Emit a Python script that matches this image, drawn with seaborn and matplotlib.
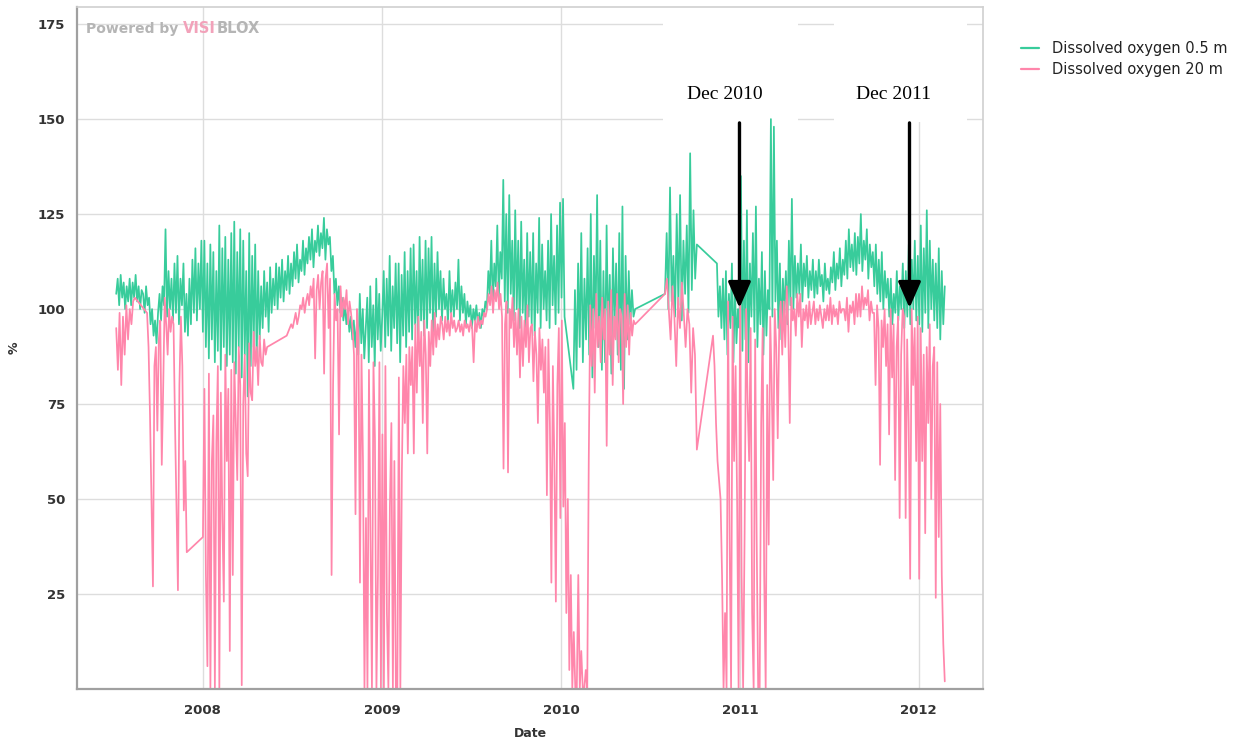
import matplotlib
matplotlib.use("Agg")
import matplotlib.pyplot as plt
import matplotlib.dates as mdates
from matplotlib.offsetbox import TextArea, HPacker, AnchoredOffsetbox
from matplotlib.ticker import MultipleLocator
import numpy as np
import pandas as pd
import seaborn as sns

sns.set_style("white")
plt.rcParams['font.family'] = ['DejaVu Sans']

# ---- data, each piece is a run of samples between two dates
green_a_span = ("2007-07-08", "2010-01-08")
green_a = [104, 108, 101, 109, 103, 107, 100, 106,
           102, 108, 101, 107, 103, 109, 102, 106, 100, 105,
           104, 99, 106, 101, 103, 96, 100, 93, 97, 91,
           99, 104, 97, 106, 101, 121, 98, 110, 100, 108,
           97, 112, 99, 114, 96, 108, 101, 112, 94, 104,
           93, 108, 96, 113, 99, 116, 97, 112, 100, 118,
           94, 118, 90, 112, 87, 117, 92, 115, 86, 110,
           89, 122, 84, 116, 90, 119, 85, 113, 88, 120,
           86, 123, 83, 115, 90, 121, 82, 118, 88, 110,
           77, 120, 85, 114, 90, 117, 87, 110, 92, 106,
           95, 110, 98, 107, 94, 111, 99, 108, 101, 112,
           100, 111, 103, 113, 102, 110, 105, 114, 104, 112,
           106, 115, 108, 117, 107, 113, 110, 118, 109, 116,
           112, 119, 113, 121, 111, 118, 115, 122, 114, 120,
           116, 124, 113, 121, 117, 119, 110, 114, 104, 108,
           101, 106, 99, 103, 97, 101, 96, 100, 94, 98,
           92, 97, 90, 96, 88, 104, 91, 100, 87, 95,
           103, 86, 106, 90, 101, 85, 108, 92, 104, 89,
           98, 110, 90, 108, 93, 114, 89, 106, 95, 112,
           91, 112, 86, 109, 93, 115, 90, 110, 94, 116,
           92, 117, 96, 110, 90, 119, 97, 113, 93, 118,
           95, 116, 99, 119, 94, 112, 98, 115, 100, 110,
           97, 108, 100, 104, 96, 110, 99, 105, 98, 107,
           100, 113, 97, 106, 99, 104, 96, 102, 98, 101,
           95, 100, 97, 101, 96, 99, 95, 100, 98, 102,
           100, 110, 104, 118, 101, 112, 106, 122, 103, 115,
           108, 134, 102, 125, 99, 130, 104, 118, 97, 126,
           100, 118, 95, 123, 99, 113, 94, 120, 98, 115,
           96, 120, 93, 112, 99, 124, 95, 117, 100, 110,
           97, 118, 95, 125, 101, 114, 96, 122, 99, 128,
           103, 129, 98]
green_b_span = ("2010-01-26", "2010-06-01")
green_b = [79, 105, 84, 112, 90, 120, 86, 108, 92, 116,
           88, 125, 82, 114, 95, 130, 90, 118, 84, 110,
           86, 122, 92, 109, 83, 116, 95, 112, 88, 120,
           84, 127, 79, 114, 92, 110, 96, 105, 98, 100]
green_c_span = ("2010-08-01", "2010-10-05")
green_c = [104, 120, 100, 132, 102, 114, 98, 125, 101, 130,
           97, 118, 104, 122, 99, 141, 105, 126, 108, 117]
green_d_span = ("2010-11-15", "2012-02-23")
green_d = [112, 98, 106, 95, 108,
           92, 110, 88, 104, 95, 112, 86, 106, 91, 100,
           95, 135, 89, 118, 92, 126, 86, 112, 98, 120,
           94, 127, 90, 108, 96, 115, 88, 110, 93, 105,
           100, 150, 98, 148, 102, 118, 95, 112, 92, 108,
           99, 110, 96, 118, 101, 129, 100, 114, 103, 112,
           104, 117, 102, 112, 106, 114, 103, 110, 105, 113,
           103, 110, 104, 113, 106, 109, 102, 112, 105, 108,
           104, 111, 107, 115, 105, 112, 108, 116, 106, 113,
           109, 118, 108, 121, 111, 117, 110, 120, 109, 119,
           112, 125, 110, 118, 113, 121, 108, 117, 111, 115,
           106, 117, 104, 113, 102, 115, 100, 110, 103, 108,
           98, 108, 96, 104, 99, 110, 97, 106, 100, 112,
           95, 110, 98, 117, 96, 113, 100, 118, 97, 114,
           96, 122, 94, 116, 99, 126, 95, 118, 100, 113,
           97, 112, 95, 116, 92, 110, 96, 106]

pink_a_span = ("2007-07-08", "2007-08-15")
pink_a = [95, 84, 99, 80, 98, 88, 101, 92, 100, 96, 102, 103]
pink_b_span = ("2007-09-09", "2007-11-29")
pink_b = [99, 90, 72, 50, 27, 85, 90, 68,
          92, 97, 59, 80, 103, 96, 88, 100, 94, 98,
          96, 70, 48, 26, 80, 98, 85, 47, 60, 36]
pink_c_span = ("2008-01-01", "2008-05-11")
pink_c = [40, 79, 30, 6, 83, 0, 60, 72, 0, 65,
          85, 0, 78, 45, 23, 88, 60, 79, 10, 84,
          30, 86, 70, 55, 90, 80, 1, 75, 88, 62,
          56, 91, 78, 76, 94, 85, 90, 80, 93, 86,
          85, 92, 88, 90]
pink_d_span = ("2008-06-20", "2010-06-01")
pink_d = [93, 94, 95, 96,
          95, 97, 99, 96, 98, 101, 100, 103, 99, 102,
          104, 101, 106, 103, 108, 87, 105, 109, 100, 107,
          110, 83, 108, 112, 95, 108, 30, 80, 104, 97,
          100, 67, 106, 98, 103, 100, 105, 96, 102, 99,
          95, 88, 46, 100, 92, 28, 88, 60, 0, 45,
          0, 84, 40, 0, 86, 66, 0, 30, 86, 0,
          67, 0, 85, 20, 0, 48, 70, 0, 60, 0,
          0, 82, 0, 57, 85, 70, 88, 62, 90, 80,
          90, 62, 96, 78, 98, 85, 94, 70, 97, 88,
          62, 94, 85, 97, 88, 99, 90, 96, 92, 98,
          96, 92, 98, 94, 97, 93, 99, 95, 97, 94,
          95, 97, 94, 96, 93, 97, 95, 96, 94, 97,
          95, 86, 97, 94, 98, 95, 97, 96, 99, 98,
          100, 104, 101, 106, 99, 105, 102, 107, 100, 104,
          98, 58, 96, 102, 57, 100, 95, 103, 90, 99,
          88, 100, 82, 98, 85, 97, 90, 101, 86, 95,
          96, 81, 94, 88, 70, 95, 84, 92, 78, 90,
          51, 92, 70, 28, 85, 60, 23, 80, 95, 45,
          97, 48, 70, 20, 50, 5, 30, 0, 15, 0,
          0, 30, 0, 10, 0, 0, 5, 0, 60, 101,
          85, 100, 78, 104, 90, 98, 86, 103, 92, 100,
          64, 102, 88, 105, 80, 98, 92, 104, 86, 100,
          98, 75, 104, 90, 101, 88, 99, 93, 97, 96]
pink_e_span = ("2010-08-01", "2010-10-05")
pink_e = [104, 108, 100, 92, 106, 98, 85, 103, 95, 107,
          99, 90, 100, 96, 78, 95, 88, 63]
pink_f_span = ("2010-11-07", "2012-02-23")
pink_f = [93, 85, 70, 60, 55, 50, 30,
          0, 20, 0, 102, 40, 0, 98, 60, 85, 50,
          0, 106, 30, 0, 41, 100, 75, 60, 95, 20,
          0, 92, 40, 0, 0, 70, 95, 30, 0, 80,
          38, 98, 80, 55, 100, 90, 66, 95, 102, 88,
          102, 90, 106, 95, 70, 103, 97, 100, 93, 104,
          98, 104, 90, 100, 97, 101, 95, 102, 96, 99,
          102, 96, 100, 97, 101, 98, 95, 100, 97, 101,
          97, 103, 96, 101, 98, 100, 96, 102, 99, 100,
          100, 97, 103, 94, 101, 99, 102, 96, 104, 98,
          104, 98, 106, 100, 103, 101, 105, 97, 102, 99,
          99, 80, 101, 95, 59, 97, 90, 100, 85, 96,
          67, 100, 82, 96, 55, 90, 98, 45, 88, 100,
          98, 45, 92, 70, 29, 100, 80, 95, 60, 98,
          29, 95, 60, 88, 41, 90, 70, 96, 50, 85,
          90, 24, 86, 40, 75, 30, 12, 2]

series_names = ["Dissolved oxygen 0.5 m", "Dissolved oxygen 20 m"]
green_parts = [(green_a_span, green_a), (green_b_span, green_b),
               (green_c_span, green_c), (green_d_span, green_d)]
pink_parts = [(pink_a_span, pink_a), (pink_b_span, pink_b), (pink_c_span, pink_c),
              (pink_d_span, pink_d), (pink_e_span, pink_e), (pink_f_span, pink_f)]

annot_labels = ["Dec 2010", "Dec 2011"]
annot_text_dates = ["2010-12-01", "2011-11-10"]
annot_arrow_dates = ["2010-12-31", "2011-12-13"]
# white patches behind the two labels (date spans)
annot_boxes = [("2010-07-28", "2011-04-29"), ("2011-07-11", "2012-04-08")]


def build(parts, name):
    frames = []
    for (start, end), vals in parts:
        frames.append(pd.DataFrame({
            "Date": pd.date_range(start, end, periods=len(vals)),
            "value": vals,
            "series": name,
        }))
    return pd.concat(frames, ignore_index=True)


df = pd.concat([build(green_parts, series_names[0]),
                build(pink_parts, series_names[1])], ignore_index=True)

GREEN = "#38CC9B"
PINK = "#FF86AB"

fig = plt.figure(figsize=(12.39, 7.44), dpi=100)
ax = fig.add_axes([77 / 1239, 1 - 689 / 744, (983 - 77) / 1239, (689 - 7) / 744])

sns.lineplot(data=df, x="Date", y="value", hue="series", hue_order=series_names,
             palette=[GREEN, PINK], estimator=None, sort=False, linewidth=1.25,
             ax=ax, legend=True)

ax.set_xlim(pd.Timestamp("2007-04-19"), pd.Timestamp("2012-05-11"))
ax.set_ylim(0, 179.5)

# ticks
ax.xaxis.set_major_locator(mdates.YearLocator())
ax.xaxis.set_major_formatter(mdates.DateFormatter("%Y"))
ax.xaxis.set_minor_locator(mdates.MonthLocator(bymonth=[4, 7, 10]))
ax.yaxis.set_minor_locator(MultipleLocator(5))
ax.set_yticks([25, 50, 75, 100, 125, 150, 175])
ax.tick_params(axis="both", which="both", direction="out", length=5, width=1.3,
               color="#333333", labelsize=9.5, labelcolor="#333333")
ax.tick_params(axis="x", which="major", pad=6)
for lab in ax.get_xticklabels() + ax.get_yticklabels():
    lab.set_fontweight("bold")

ax.grid(True, which="major", color="#DDDDDD", linewidth=1)
ax.set_axisbelow(True)

for side in ["top", "right"]:
    ax.spines[side].set_color("#D0D0D0")
    ax.spines[side].set_linewidth(1.2)
for side in ["left", "bottom"]:
    ax.spines[side].set_color("#A0A0A0")
    ax.spines[side].set_linewidth(1.6)

ax.set_xlabel("Date", fontsize=9, fontweight="bold", color="#333333", labelpad=7)
ax.set_ylabel("%", fontsize=9, fontweight="bold", color="#333333", labelpad=12)

# legend outside on the right
handles, labels = ax.get_legend_handles_labels()
ax.get_legend().remove()
leg = fig.legend(handles, labels, loc="upper left", bbox_to_anchor=(1008 / 1239, 1 - 28 / 744),
                 frameon=False, fontsize=10.5, handlelength=1.2, handletextpad=0.9,
                 labelspacing=0.4)
for line in leg.get_lines():
    line.set_linewidth(1.6)
for t in leg.get_texts():
    t.set_color("#222222")

# watermark
wm = HPacker(children=[
    TextArea("Powered by ", textprops=dict(color="#B5B5B5", fontsize=10, fontweight="bold")),
    TextArea("VISI", textprops=dict(color="#F2A2BA", fontsize=10.5, fontweight="bold")),
    TextArea("BLOX", textprops=dict(color="#B5B5B5", fontsize=10.5, fontweight="bold")),
], align="baseline", pad=0, sep=0)
ax.add_artist(AnchoredOffsetbox(loc="upper left", child=wm, frameon=False,
                                bbox_to_anchor=(0.004, 0.988), bbox_transform=ax.transAxes,
                                borderpad=0))

# annotations with arrows
for (b0, b1) in annot_boxes:
    ax.axvspan(pd.Timestamp(b0), pd.Timestamp(b1), ymin=0.832, ymax=1.0,
               color="white", lw=0, zorder=1)
for label, tdate, adate in zip(annot_labels, annot_text_dates, annot_arrow_dates):
    ax.text(pd.Timestamp(tdate), 156.5, label, ha="center", va="center",
            fontsize=14, family="Liberation Serif", color="black", zorder=5)
    ax.annotate("", xy=(pd.Timestamp(adate), 100.3), xytext=(pd.Timestamp(adate), 149),
                arrowprops=dict(arrowstyle="-|>,head_width=0.35,head_length=0.8",
                                lw=2.4, color="black", mutation_scale=20,
                                shrinkA=0, shrinkB=0),
                zorder=6)

fig.savefig("out.png", dpi=100)
